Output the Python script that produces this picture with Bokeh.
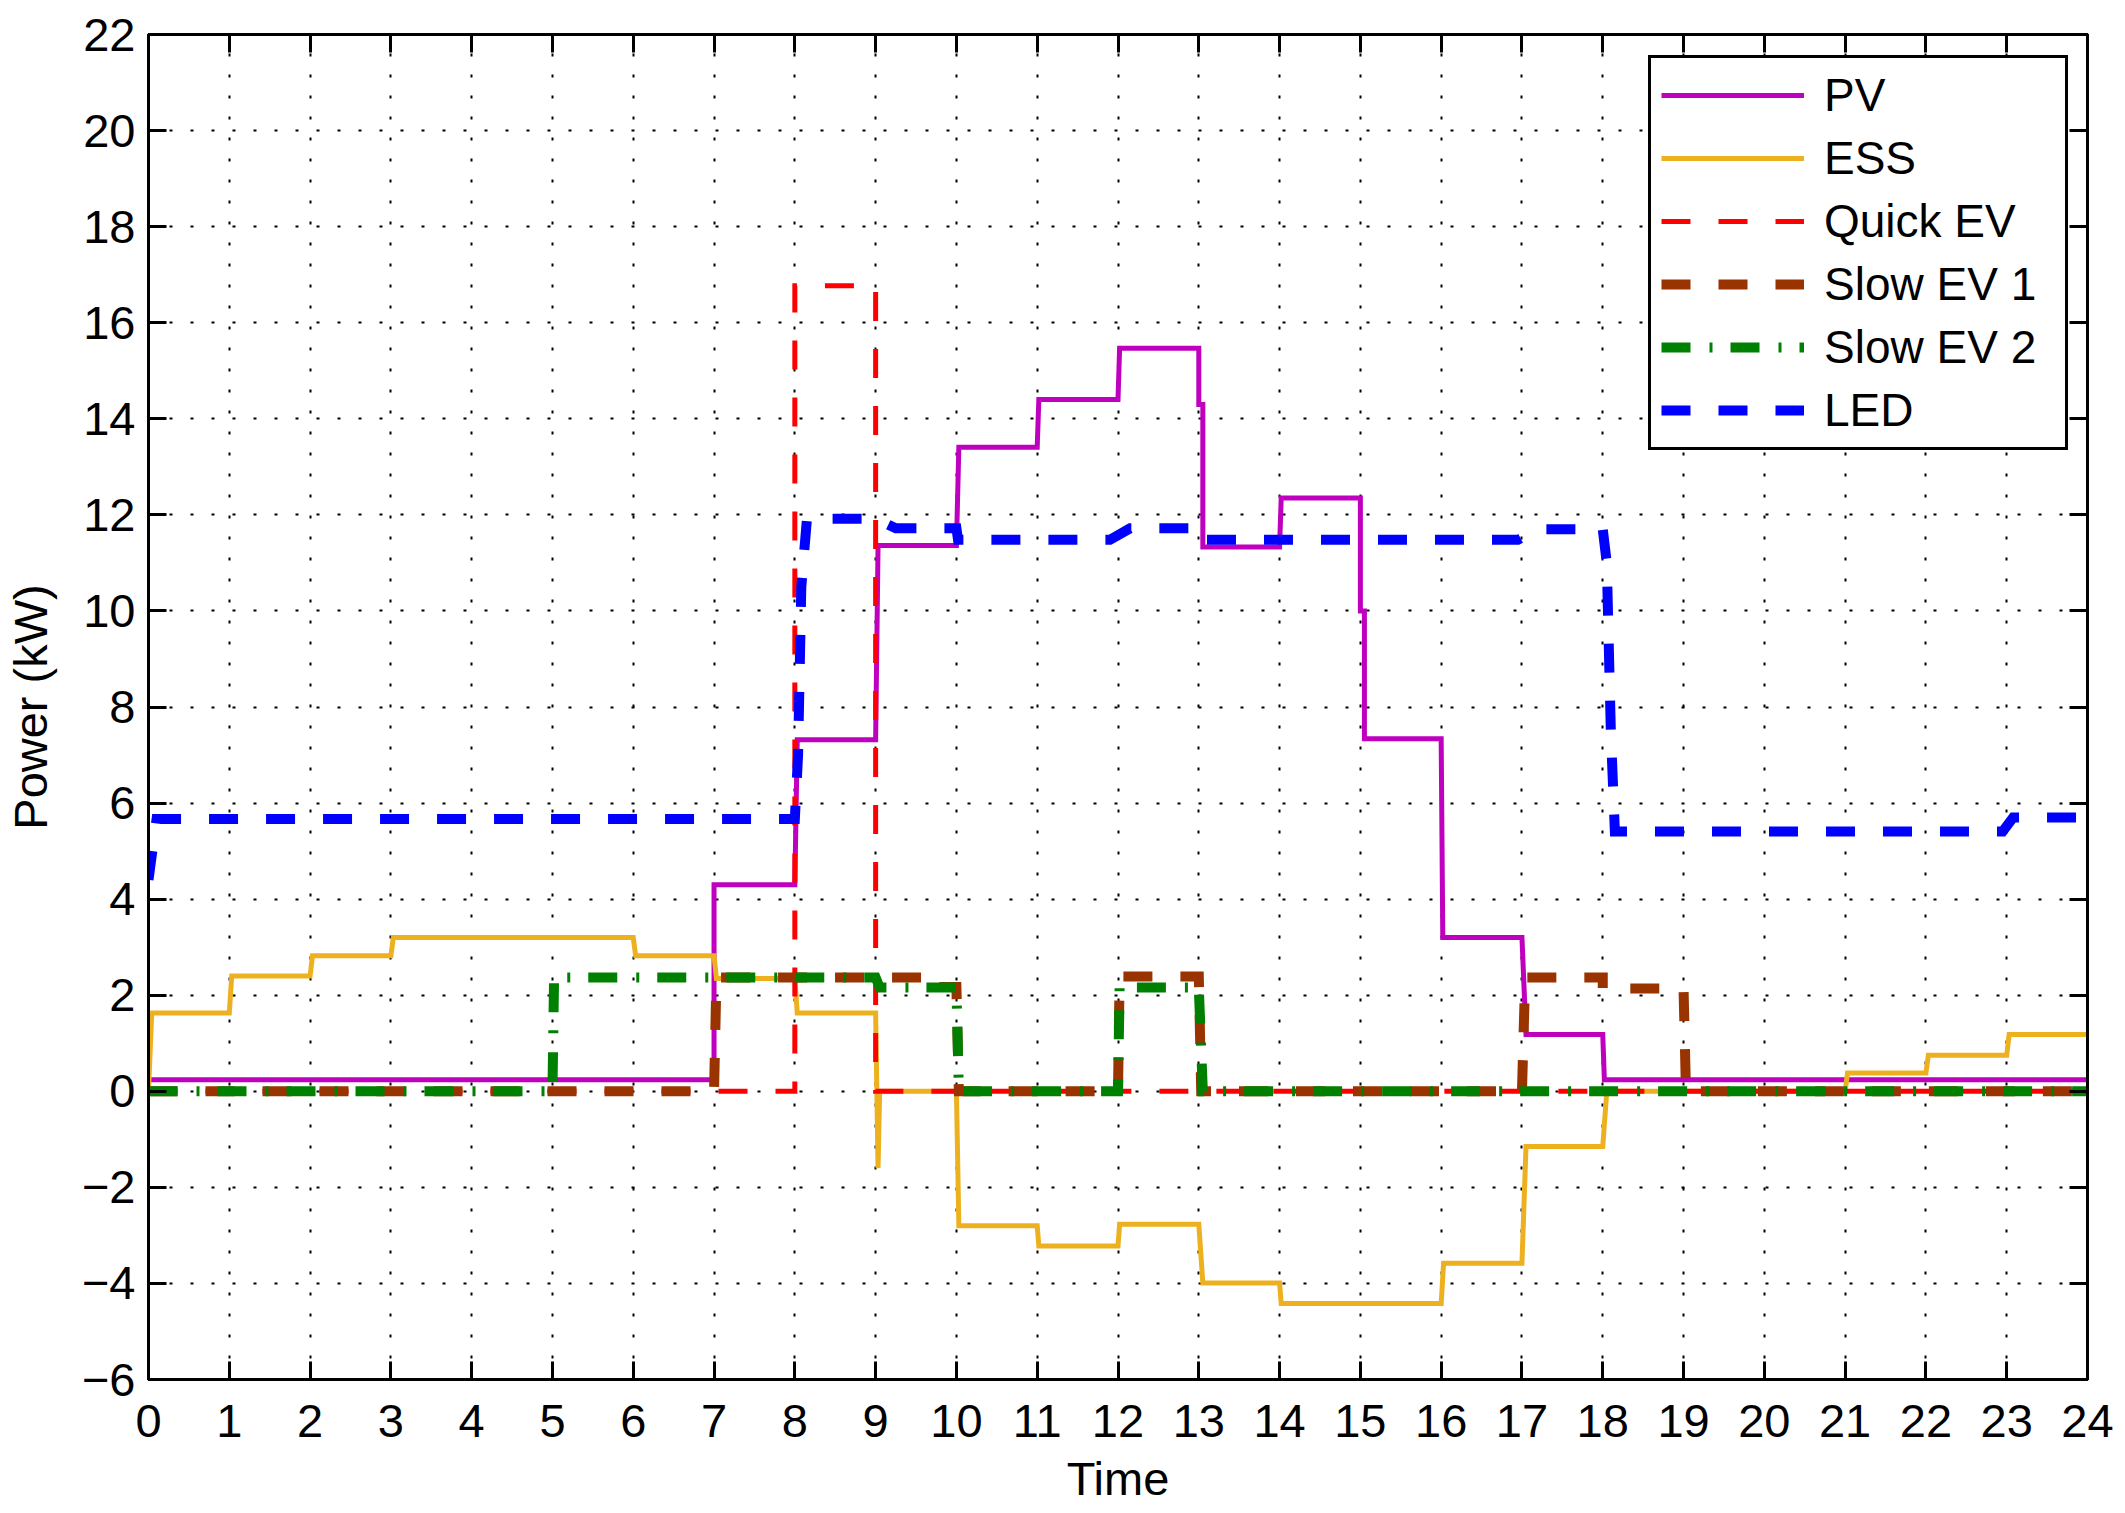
from bokeh.plotting import figure
from bokeh.models import Range1d, FixedTicker, LinearAxis, Legend, LegendItem
from bokeh.embed import file_html
from bokeh.resources import INLINE

# ---------------- data ----------------
x_ticks = list(range(0, 25))
y_ticks = [-6, -4, -2, 0, 2, 4, 6, 8, 10, 12, 14, 16, 18, 20, 22]
y_tick_labels = {-6: "\u22126", -4: "\u22124", -2: "\u22122"}

pv_t = [0, 7.0, 7.0, 8.0, 8.03, 9.0, 9.03, 10.0, 10.03, 11.0, 11.02, 12.0, 12.02,
        13.0, 13.0, 13.05, 13.05, 14.0, 14.02, 15.0, 15.0, 15.05, 15.05, 16.0, 16.02,
        17.0, 17.05, 18.0, 18.02, 24]
pv_v = [0.24, 0.24, 4.3, 4.3, 7.32, 7.32, 11.36, 11.36, 13.41, 13.41, 14.4, 14.4, 15.47,
        15.47, 14.3, 14.3, 11.33, 11.33, 12.35, 12.35, 10.0, 10.0, 7.34, 7.34, 3.2,
        3.2, 1.18, 1.18, 0.24, 0.24]

ess_t = [0, 0.04, 1.0, 1.03, 2.0, 2.03, 3.0, 3.03, 6.0, 6.03, 7.0, 7.03, 8.0, 8.03,
         9.0, 9.03, 9.05, 10.0, 10.03, 11.0, 11.02, 12.0, 12.02, 13.0, 13.05, 14.0,
         14.02, 16.0, 16.03, 17.0, 17.05, 18.0, 18.05, 21.0, 21.03, 22.0, 22.03, 23.0,
         23.03, 24]
ess_v = [0, 1.63, 1.63, 2.4, 2.4, 2.82, 2.82, 3.2, 3.2, 2.82, 2.82, 2.35, 2.35, 1.63,
         1.63, -1.6, 0, 0, -2.8, -2.8, -3.22, -3.22, -2.77, -2.77, -3.99, -3.99,
         -4.42, -4.42, -3.58, -3.58, -1.15, -1.15, 0, 0, 0.38, 0.38, 0.75, 0.75,
         1.18, 1.18]

qev_t = [0, 8.0, 8.0, 9.0, 9.0, 24]
qev_v = [0, 0, 16.77, 16.77, 0, 0]

sev1_t = [0, 7.0, 7.03, 9.75, 9.75, 10.0, 10.03, 12.0, 12.02, 13.0, 13.03, 17.0,
          17.04, 18.0, 18.0, 19.0, 19.03, 24]
sev1_v = [0, 0, 2.37, 2.37, 2.17, 2.17, 0, 0, 2.39, 2.39, 0, 0, 2.37, 2.37, 2.14,
          2.14, 0, 0]

sev2_t = [0, 5.0, 5.02, 9.0, 9.05, 10.0, 10.03, 12.0, 12.02, 13.0, 13.05, 24]
sev2_v = [0, 0, 2.37, 2.37, 2.16, 2.16, 0, 0, 2.16, 2.16, 0, 0]

led_t = [0, 0.1, 8.0, 8.04, 8.08, 8.15, 9.0, 9.25, 10.0, 10.02, 11.9, 12.15, 13.0,
         13.03, 16.95, 17.2, 18.0, 18.05, 18.1, 18.15, 22.95, 23.08, 24]
led_v = [4.4, 5.67, 5.67, 7.0, 10.5, 11.92, 11.92, 11.72, 11.72, 11.48, 11.48, 11.72,
         11.72, 11.48, 11.48, 11.7, 11.7, 11.0, 7.5, 5.41, 5.41, 5.7, 5.7]

series_names = ["PV", "ESS", "Quick EV", "Slow EV 1", "Slow EV 2", "LED"]

# ---------------- figure ----------------
FONT = "Liberation Sans"
FS = "47px"

p = figure(width=2125, height=1513, output_backend="svg", toolbar_location=None,
           x_range=Range1d(0, 24), y_range=Range1d(-6, 22),
           min_border_left=146, min_border_right=38, min_border_top=34,
           min_border_bottom=134)
p.background_fill_color = "white"
p.border_fill_color = "white"
p.outline_line_color = "black"
p.outline_line_alpha = 1.0
p.outline_line_width = 3

xt = FixedTicker(ticks=x_ticks)
yt = FixedTicker(ticks=y_ticks)

bottom_ax = p.below[0]
left_ax = p.left[0]
bottom_ax.ticker = xt
left_ax.ticker = yt
left_ax.major_label_overrides = y_tick_labels

top_ax = LinearAxis(ticker=xt, major_label_overrides={t: "" for t in x_ticks})
right_ax = LinearAxis(ticker=yt, major_label_overrides={t: "" for t in y_ticks})
p.add_layout(top_ax, "above")
p.add_layout(right_ax, "right")

for ax in (bottom_ax, left_ax, top_ax, right_ax):
    ax.axis_line_color = "black"
    ax.axis_line_width = 3
    ax.major_tick_in = 18
    ax.major_tick_out = 0
    ax.major_tick_line_width = 3
    ax.major_tick_line_color = "black"
    ax.minor_tick_in = 0
    ax.minor_tick_out = 0
    ax.major_label_text_font = FONT
    ax.major_label_text_font_size = FS
    ax.major_label_text_color = "black"
    ax.axis_label_text_font = FONT
    ax.axis_label_text_font_size = FS
    ax.axis_label_text_font_style = "normal"
    ax.axis_label_text_color = "black"

top_ax.major_label_standoff = 0
right_ax.major_label_standoff = 0

bottom_ax.axis_label = "Time"
bottom_ax.major_label_standoff = 25
bottom_ax.axis_label_standoff = 12
left_ax.axis_label = "Power (kW)"
left_ax.major_label_standoff = 13
left_ax.axis_label_standoff = 22

p.xgrid.ticker = xt
p.ygrid.ticker = yt
for g in (p.xgrid[0], p.ygrid[0]):
    g.grid_line_color = "black"
    g.grid_line_alpha = 1.0
    g.grid_line_width = 2
    g.grid_line_dash = "3 18"

# ---------------- series ----------------
r_pv = p.line(pv_t, pv_v, line_color="#BF00BF", line_width=5, line_join="miter")
r_ess = p.line(ess_t, ess_v, line_color="#EDB120", line_width=5, line_join="miter")
r_qev = p.line(qev_t, qev_v, line_color="#FF0000", line_width=5, line_dash="29 28",
               line_join="miter")
r_s1 = p.line(sev1_t, sev1_v, line_color="#993300", line_width=10, line_dash="29 28",
              line_join="miter")
r_s2 = p.line(sev2_t, sev2_v, line_color="#008000", line_width=10,
              line_dash="29 19 3 18", line_join="miter")
r_led = p.line(led_t, led_v, line_color="#0000FF", line_width=10, line_dash="29 28",
               line_join="miter")

renderers = [r_pv, r_ess, r_qev, r_s1, r_s2, r_led]
legend = Legend(items=[LegendItem(label=n, renderers=[r]) for n, r in zip(series_names, renderers)],
                location=(1500, 929))
legend.label_text_font = FONT
legend.label_text_font_size = "46px"
legend.label_text_color = "black"
legend.glyph_width = 143
legend.glyph_height = 52
legend.label_height = 52
legend.label_width = 231
legend.label_standoff = 20
legend.spacing = 9
legend.padding = 10
legend.margin = 0
legend.border_line_color = "black"
legend.border_line_alpha = 1.0
legend.border_line_width = 3
legend.background_fill_color = "white"
legend.background_fill_alpha = 1.0
p.add_layout(legend, "center")

open("out.html", "w").write(file_html(p, INLINE))
